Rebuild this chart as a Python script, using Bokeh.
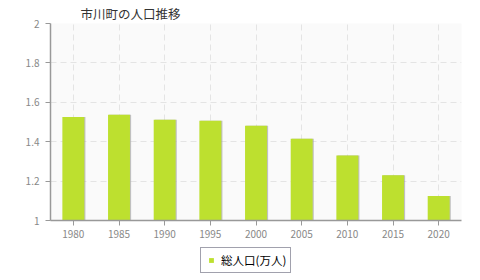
from bokeh.plotting import figure
from bokeh.layouts import column
from bokeh.models import Range1d, FixedTicker, Legend, LegendItem, ColumnDataSource
from bokeh.transform import dodge
from bokeh.embed import file_html
from bokeh.resources import INLINE

years = ["1980", "1985", "1990", "1995", "2000", "2005", "2010", "2015", "2020"]
population = [1.525, 1.537, 1.511, 1.506, 1.481, 1.415, 1.330, 1.230, 1.125]
y_ticks = [1, 1.2, 1.4, 1.6, 1.8, 2]
series_name = "総人口(万人)"
title_text = "市川町の人口推移"

FONT = "Noto Sans CJK JP"
GREEN = "#bde02f"

src = ColumnDataSource(dict(year=years, pop=population))

p = figure(width=480, height=245, x_range=years, y_range=Range1d(1, 2),
           output_backend="svg", toolbar_location=None,
           min_border_left=50, min_border_right=19, min_border_top=20, min_border_bottom=25)

p.title.text = title_text
p.title.text_font = FONT
p.title.text_font_size = "12.5px"
p.title.text_font_style = "normal"
p.title.text_color = "#333333"
p.title.offset = 30
p.title.standoff = 2

p.background_fill_color = "#fafafa"
p.border_fill_color = "white"
p.outline_line_color = None

# shadow
p.vbar(x=dodge("year", 0.025, range=p.x_range), top="pop", bottom=1, width=0.48,
       source=src, fill_color="#999999", fill_alpha=0.6, line_color=None)
r = p.vbar(x="year", top="pop", bottom=1, width=0.48, source=src,
           fill_color=GREEN, line_color=None)

p.yaxis.ticker = FixedTicker(ticks=y_ticks)
p.yaxis.major_label_overrides = {1: "1", 2: "2"}
for ax in (p.xaxis[0], p.yaxis[0]):
    ax.axis_line_color = "#999999"
    ax.axis_line_width = 1.5
    ax.major_tick_line_color = "#999999"
    ax.minor_tick_line_color = None
    ax.major_label_text_font = FONT
    ax.major_label_text_font_size = "10px"
    ax.major_label_text_color = "#888888"
p.yaxis.major_tick_out = 5
p.yaxis.major_tick_in = 0
p.xaxis.major_tick_out = 5
p.xaxis.major_tick_in = 0
p.xaxis.major_label_standoff = 4
p.yaxis.major_label_standoff = 6

p.xgrid.grid_line_color = "#e4e4e4"
p.xgrid.grid_line_dash = "6 4"
p.ygrid.grid_line_color = "#e4e4e4"
p.ygrid.grid_line_dash = "6 4"

# legend strip
lg = figure(width=480, height=35, x_range=Range1d(0, 1), y_range=Range1d(0, 1),
            output_backend="svg", toolbar_location=None,
            min_border_left=0, min_border_right=0, min_border_top=0, min_border_bottom=0)
lg.axis.visible = False
lg.grid.visible = False
lg.outline_line_color = None
lg.background_fill_color = "white"
lg.border_fill_color = "white"
dummy = lg.scatter(x=[5], y=[5], marker="square", size=8, fill_color=GREEN, line_color=None)

legend = Legend(items=[LegendItem(label=series_name, renderers=[dummy])],
                orientation="horizontal", location=(150, 7),
                label_text_font=FONT, label_text_font_size="11.5px", label_text_color="#000000",
                glyph_width=12, glyph_height=12, label_standoff=4,
                label_height=12,
                border_line_color="#8a8a99", border_line_width=1, border_line_alpha=0.8,
                background_fill_color="white", padding=4, margin=0)
lg.add_layout(legend, "center")

layout = column(p, lg, spacing=0)
open("out.html", "w").write(file_html(layout, INLINE))
